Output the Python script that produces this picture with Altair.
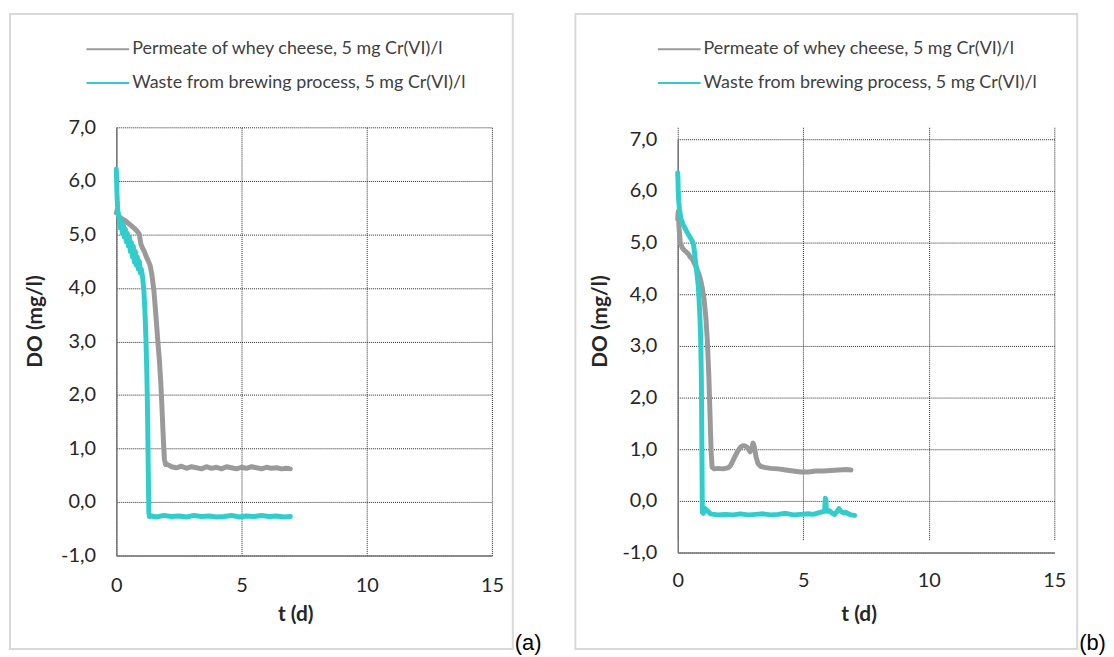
import altair as alt
import pandas as pd

FONT = "Lato"
SERIES = ["Permeate of whey cheese, 5 mg Cr(VI)/l",
          "Waste from brewing process, 5 mg Cr(VI)/l"]
COLORS = ["#9a9a9a", "#33cccc"]
X_TICKS = [0, 5, 10, 15]
Y_TICKS = [-1, 0, 1, 2, 3, 4, 5, 6, 7]
TAGS = ["(a)", "(b)"]

# ---- panel (a) ----
a_perm_t = [0.00, 0.03, 0.08, 0.15, 0.25, 0.35, 0.45, 0.55, 0.65, 0.75,
            0.85, 0.92, 0.98, 1.05, 1.12, 1.2, 1.28, 1.35, 1.42, 1.5,
            1.58, 1.65, 1.72, 1.78, 1.83, 1.88, 1.92, 1.97, 2.05, 2.2,
            2.4, 2.6, 2.8, 3.0, 3.2, 3.4, 3.6, 3.8, 4.0, 4.2,
            4.4, 4.6, 4.8, 5.0, 5.2, 5.4, 5.6, 5.8, 6.0, 6.2,
            6.4, 6.6, 6.8, 6.95]
a_perm_do = [5.40, 5.45, 5.36, 5.32, 5.28, 5.26, 5.22, 5.18, 5.14, 5.10,
             5.05, 5.00, 4.82, 4.74, 4.68, 4.58, 4.50, 4.42, 4.25, 3.95,
             3.50, 3.05, 2.65, 2.20, 1.70, 1.15, 0.80, 0.70, 0.70, 0.66,
             0.64, 0.67, 0.63, 0.66, 0.64, 0.62, 0.66, 0.63, 0.65, 0.62,
             0.66, 0.64, 0.62, 0.65, 0.63, 0.66, 0.64, 0.62, 0.65, 0.63,
             0.64, 0.62, 0.63, 0.62]

a_waste_t = [0.00, 0.01, 0.02, 0.04, 0.06, 0.09, 0.12, 0.16, 0.20, 0.24,
             0.28, 0.32, 0.36, 0.40, 0.44, 0.48, 0.52, 0.56, 0.60, 0.64,
             0.68, 0.72, 0.76, 0.80, 0.84, 0.88, 0.92, 0.96, 1.00, 1.05,
             1.10, 1.14, 1.18, 1.22, 1.25, 1.27, 1.29, 1.30, 1.32, 1.40,
             1.6, 1.9, 2.2, 2.5, 2.8, 3.1, 3.4, 3.7, 4.0, 4.3,
             4.6, 4.9, 5.2, 5.5, 5.8, 6.1, 6.4, 6.7, 6.95]
a_waste_do = [6.22, 6.05, 5.85, 5.60, 5.45, 5.35, 5.30, 5.12, 5.25, 5.02,
              5.18, 4.95, 5.10, 4.86, 5.02, 4.78, 4.95, 4.68, 4.85, 4.58,
              4.78, 4.48, 4.68, 4.42, 4.58, 4.35, 4.50, 4.28, 4.35, 4.20,
              3.95, 3.60, 3.10, 2.40, 1.60, 0.80, 0.10, -0.20, -0.27, -0.26,
              -0.28, -0.25, -0.27, -0.26, -0.28, -0.25, -0.27, -0.26, -0.28, -0.27,
              -0.25, -0.28, -0.26, -0.27, -0.25, -0.27, -0.26, -0.28, -0.27]

# ---- panel (b) ----
b_perm_t = [0.00, 0.02, 0.05, 0.10, 0.18, 0.26, 0.34, 0.42, 0.50, 0.58,
            0.66, 0.74, 0.82, 0.90, 0.98, 1.05, 1.12, 1.18, 1.24, 1.29,
            1.33, 1.37, 1.45, 1.6, 1.8, 2.0, 2.1, 2.2, 2.3, 2.4,
            2.5, 2.6, 2.7, 2.8, 2.88, 2.95, 3.0, 3.05, 3.12, 3.2,
            3.3, 3.45, 3.7, 4.0, 4.3, 4.6, 4.9, 5.2, 5.5, 5.8,
            6.1, 6.4, 6.7, 6.9]
b_perm_do = [5.45, 5.60, 5.30, 5.00, 4.90, 4.85, 4.82, 4.78, 4.72, 4.68,
             4.60, 4.52, 4.42, 4.30, 4.12, 3.90, 3.55, 3.10, 2.40, 1.60,
             0.95, 0.65, 0.62, 0.63, 0.62, 0.64, 0.68, 0.78, 0.88, 0.97,
             1.04, 1.07, 1.06, 1.02, 0.95, 1.02, 1.12, 1.05, 0.85, 0.72,
             0.67, 0.65, 0.63, 0.62, 0.60, 0.58, 0.56, 0.56, 0.58, 0.58,
             0.59, 0.60, 0.61, 0.60]

b_waste_t = [0.00, 0.01, 0.02, 0.04, 0.07, 0.10, 0.14, 0.18, 0.22, 0.27,
             0.32, 0.37, 0.42, 0.47, 0.52, 0.57, 0.62, 0.66, 0.70, 0.74,
             0.78, 0.82, 0.85, 0.88, 0.90, 0.92, 0.94, 0.96, 0.98, 1.02,
             1.1, 1.3, 1.6, 1.9, 2.2, 2.5, 2.8, 3.1, 3.4, 3.7,
             4.0, 4.3, 4.6, 4.9, 5.2, 5.4, 5.6, 5.75, 5.85, 5.88,
             5.90, 5.92, 5.95, 6.05, 6.15, 6.25, 6.35, 6.42, 6.5, 6.6,
             6.7, 6.8, 6.9, 7.05]
b_waste_do = [6.35, 6.20, 6.00, 5.80, 5.65, 5.55, 5.45, 5.40, 5.35, 5.30,
              5.25, 5.20, 5.16, 5.12, 5.08, 5.04, 4.98, 4.85, 4.65, 4.50,
              4.35, 4.15, 3.90, 3.60, 3.35, 3.00, 2.40, 1.20, -0.22, -0.24,
              -0.15, -0.25, -0.27, -0.26, -0.27, -0.25, -0.27, -0.26, -0.25, -0.27,
              -0.26, -0.24, -0.27, -0.26, -0.25, -0.26, -0.23, -0.21, -0.20, 0.05,
              0.03, -0.18, -0.20, -0.19, -0.24, -0.26, -0.20, -0.15, -0.20, -0.23,
              -0.22, -0.25, -0.27, -0.28]


def series_df(t_list, do_list, name):
    n = min(len(t_list), len(do_list))
    return pd.DataFrame({"t": t_list[:n], "DO": do_list[:n],
                         "series": name, "i": list(range(n))})


def panel(df, tag, w, h, y_range, frame, box_right, tag_xy, legend_xy,
          xtitle_xy, ytitle_xy, xlabpad):
    one = alt.Data(values=[{}])
    fx0, fx1, fy0, fy1 = frame
    box = alt.Chart(one).mark_rect(fill="white", opacity=0).encode(
        x=alt.value(fx0), x2=alt.value(box_right),
        y=alt.value(fy0), y2=alt.value(fy1))
    border = alt.Chart(one).mark_rect(
        fill="white", fillOpacity=0, stroke="#d9d9d9", strokeWidth=2).encode(
        x=alt.value(fx0), x2=alt.value(fx1),
        y=alt.value(fy0), y2=alt.value(fy1))
    lines = alt.Chart(df).mark_line(
        strokeWidth=5, strokeJoin="round", strokeCap="round").encode(
        x=alt.X("t:Q", scale=alt.Scale(domain=[0, 15], nice=False),
                axis=alt.Axis(values=X_TICKS, title="t (d)", grid=True,
                              gridColor="#262626", gridDash=[1, 1], gridWidth=1,
                              ticks=False, domainColor="#767676", domainWidth=1.5,
                              labelFont=FONT, labelFontSize=20, labelColor="#262626",
                              labelPadding=xlabpad, labelFlush=False,
                              titleFont=FONT, titleFontSize=21, titleFontWeight="bold",
                              titleColor="#262626", titleX=xtitle_xy[0],
                              titleY=xtitle_xy[1], titleBaseline="middle",
                              titleAlign="center")),
        y=alt.Y("DO:Q", scale=alt.Scale(domain=[-1, 7], nice=False, range=y_range),
                axis=alt.Axis(values=Y_TICKS, title="DO (mg/l)", grid=True,
                              gridColor="#262626", gridDash=[1, 1], gridWidth=1,
                              ticks=False, domainColor="#767676", domainWidth=1.5,
                              labelFont=FONT, labelFontSize=20, labelColor="#262626",
                              labelPadding=21,
                              labelExpr="replace(replace(format(datum.value, '.1f'), '.', ','), '\u2212', '-')",
                              titleFont=FONT, titleFontSize=21, titleFontWeight="bold",
                              titleColor="#262626", titleX=ytitle_xy[0],
                              titleY=ytitle_xy[1], titleBaseline="middle",
                              titleAlign="center")),
        color=alt.Color("series:N", scale=alt.Scale(domain=SERIES, range=COLORS),
                        legend=alt.Legend(orient="none", legendX=legend_xy[0],
                                          legendY=legend_xy[1], direction="vertical",
                                          title=None, symbolType="stroke",
                                          symbolSize=1849, symbolStrokeWidth=2,
                                          labelFont=FONT, labelFontSize=18,
                                          labelColor="#404040", labelOffset=2,
                                          rowPadding=2, padding=0, labelLimit=0)),
        order=alt.Order("i:Q"),
    )
    label = alt.Chart(one).mark_text(
        text=tag, align="left", baseline="alphabetic",
        font="Liberation Sans", fontSize=22, color="#000000").encode(
        x=alt.value(tag_xy[0]), y=alt.value(tag_xy[1]))
    return alt.layer(box, border, lines, label).properties(width=w, height=h)


df_a = pd.concat([series_df(a_perm_t, a_perm_do, SERIES[0]),
                  series_df(a_waste_t, a_waste_do, SERIES[1])], ignore_index=True)
df_b = pd.concat([series_df(b_perm_t, b_perm_do, SERIES[0]),
                  series_df(b_waste_t, b_waste_do, SERIES[1])], ignore_index=True)

pa = panel(df_a, TAGS[0], 378, 431, [431, 0], frame=(-107, 399, -114, 525),
           box_right=461, tag_xy=(401, 526), legend_xy=(-31, -101),
           xtitle_xy=(180, 59), ytitle_xy=(-81, 195), xlabpad=20)
pb = panel(df_b, TAGS[1], 379, 428, [428, 12], frame=(-103, 402, -114, 525),
           box_right=402, tag_xy=(404, 526), legend_xy=(-21, -101),
           xtitle_xy=(182, 62), ytitle_xy=(-78, 195), xlabpad=18)

chart = alt.hconcat(pa, pb, spacing=0).resolve_scale(
    x="independent", y="independent", color="independent"
).resolve_legend(color="independent").configure_view(stroke=None).properties(
    padding={"left": 1, "top": 3, "right": 0, "bottom": 0})

chart.save("out.html", embed_options={"renderer": "svg", "actions": False})
